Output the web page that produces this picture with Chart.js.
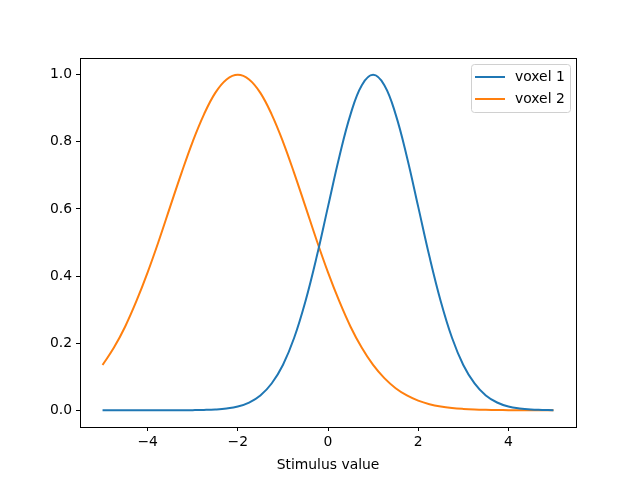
<!DOCTYPE html>
<html>
<head>
<meta charset="utf-8">
<script src="https://cdn.jsdelivr.net/npm/chart.js@4"></script>
<style>
  html, body { margin: 0; padding: 0; background: #fff; }
  #wrap { width: 640px; height: 480px; }
</style>
</head>
<body>
<div id="wrap"><canvas id="chart" width="640" height="480"></canvas></div>
<script>
// values, x step 0.25 from -5 to 5
const stimulus = [-5, -4.75, -4.5, -4.25, -4, -3.75, -3.5, -3.25, -3, -2.75, -2.5, -2.25, -2, -1.75, -1.5, -1.25,
  -1, -0.75, -0.5, -0.25, 0, 0.25, 0.5, 0.75, 1, 1.25, 1.5, 1.75, 2, 2.25, 2.5, 2.75, 3, 3.25, 3.5, 3.75,
  4, 4.25, 4.5, 4.75, 5];
const voxel1 = [0, 0, 0, 0, 0, 0, 0, 0, 0.0003, 0.0009, 0.0022, 0.0051, 0.011, 0.0228, 0.044, 0.0796,
  0.135, 0.216, 0.325, 0.458, 0.607, 0.755, 0.882, 0.969, 1.0, 0.969, 0.882, 0.755, 0.607, 0.458, 0.325, 0.216,
  0.135, 0.08, 0.044, 0.023, 0.011, 0.005, 0.002, 0.001, 0.0003];
const voxel2 = [0.135, 0.186, 0.249, 0.325, 0.411, 0.506, 0.607, 0.707, 0.801, 0.882, 0.946, 0.986, 1.0, 0.986,
  0.946, 0.882, 0.801, 0.707, 0.607, 0.506, 0.411, 0.325, 0.249, 0.186, 0.135, 0.0956, 0.0657, 0.044, 0.0286,
  0.018, 0.011, 0.0066, 0.0039, 0.0022, 0.0012, 0.0006, 0.0003, 0.0002, 0.0001, 0, 0];
const xTicks = [-4, -2, 0, 2, 4];
const yTicks = [0, 0.2, 0.4, 0.6, 0.8, 1.0];

const FONT = { family: 'DejaVu Sans', size: 13.9 };

const points = (ys) => stimulus.map((x, i) => ({ x: x, y: ys[i] }));

// full box around the plot + legend inside top-right
const boxAndLegend = {
  id: 'boxAndLegend',
  afterDraw(chart) {
    const ctx = chart.ctx;
    const a = chart.chartArea;
    ctx.save();
    ctx.strokeStyle = '#000';
    ctx.lineWidth = 1;
    ctx.strokeRect(Math.round(a.left) + 0.5, Math.round(a.top) + 0.5,
      Math.round(a.right - a.left), Math.round(a.bottom - a.top));

    const w = 99, h = 48;
    const x0 = a.right - 6 - w, y0 = a.top + 6;
    ctx.beginPath();
    ctx.roundRect(x0 + 0.5, y0 + 0.5, w, h, 3);
    ctx.fillStyle = 'rgba(255,255,255,0.8)';
    ctx.fill();
    ctx.strokeStyle = '#d0d0d0';
    ctx.stroke();

    ctx.font = FONT.size + 'px ' + FONT.family;
    ctx.textBaseline = 'middle';
    chart.data.datasets.forEach((ds, i) => {
      const yy = y0 + 13 + i * 22;
      ctx.beginPath();
      ctx.moveTo(x0 + 4, yy);
      ctx.lineTo(x0 + 34, yy);
      ctx.strokeStyle = ds.borderColor;
      ctx.lineWidth = 2;
      ctx.stroke();
      ctx.fillStyle = '#000';
      ctx.fillText(ds.label, x0 + 44, yy);
    });
    ctx.restore();
  }
};

new Chart(document.querySelector('#chart').getContext('2d'), {
  type: 'line',
  data: {
    datasets: [
      { label: 'voxel 1', data: points(voxel1), borderColor: '#1f77b4', borderWidth: 2, pointRadius: 0, tension: 0.4, fill: false },
      { label: 'voxel 2', data: points(voxel2), borderColor: '#ff7f0e', borderWidth: 2, pointRadius: 0, tension: 0.4, fill: false }
    ]
  },
  options: {
    responsive: false,
    animation: false,
    layout: { padding: { left: 0, top: 58, right: 64, bottom: 0 } },
    plugins: { legend: { display: false }, tooltip: { enabled: false } },
    scales: {
      x: {
        type: 'linear',
        min: -5.5,
        max: 5.5,
        afterBuildTicks: (s) => { s.ticks = xTicks.map(v => ({ value: v })); },
        afterFit: (s) => { s.height = 53; },
        ticks: {
          color: '#000', font: FONT, maxRotation: 0, padding: 3,
          callback: (v) => String(v).replace('-', '\u2212')
        },
        grid: { drawOnChartArea: false, drawTicks: true, tickLength: 4, color: '#000' },
        border: { color: '#000', width: 1 },
        title: { display: true, text: 'Stimulus value', color: '#000', font: FONT, padding: { top: 0, bottom: 6 } }
      },
      y: {
        min: -0.05,
        max: 1.05,
        afterBuildTicks: (s) => { s.ticks = yTicks.map(v => ({ value: v })); },
        afterFit: (s) => { s.width = 80; },
        ticks: { color: '#000', font: FONT, padding: 4, callback: (v) => v.toFixed(1) },
        grid: { drawOnChartArea: false, drawTicks: true, tickLength: 4, color: '#000' },
        border: { color: '#000', width: 1 }
      }
    }
  },
  plugins: [boxAndLegend]
});
</script>
</body>
</html>
